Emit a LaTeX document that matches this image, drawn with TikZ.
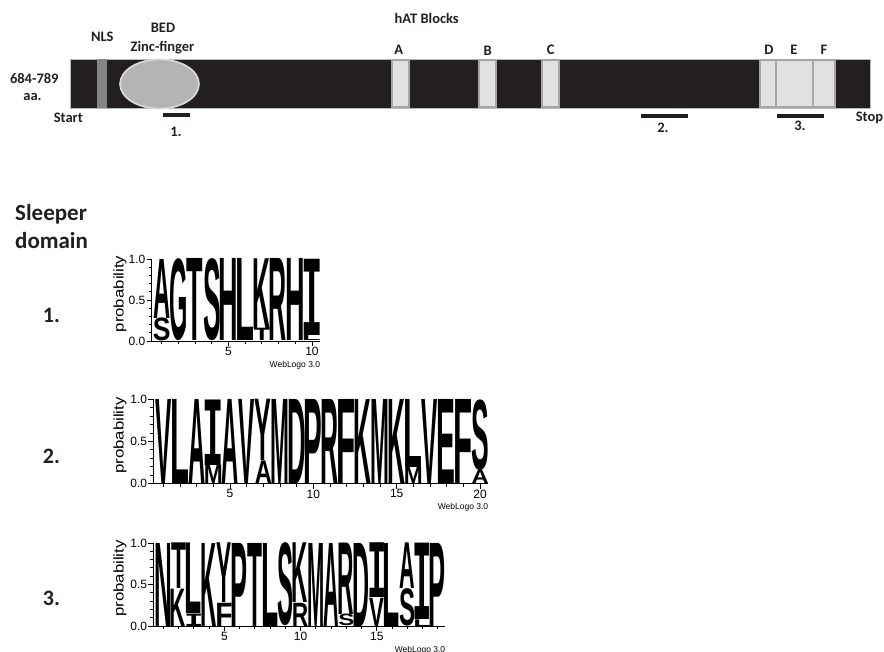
\documentclass[tikz,border=0pt]{standalone}
\usepackage{fontspec}
\usepackage{graphicx}
\setmainfont{Carlito}
\newfontfamily\lsans{Liberation Sans}
\newfontfamily\lmono{Liberation Mono}
\definecolor{ink}{HTML}{231F20}
\definecolor{nlsgray}{HTML}{858585}
\definecolor{bedfill}{HTML}{B4B4B4}
\definecolor{bededge}{HTML}{DCDCDC}
\definecolor{hatfill}{HTML}{E1E1E1}
\definecolor{hatedge}{HTML}{A6A6A6}
% one logo letter, its side bearings trimmed so that the ink fills the box
\newcommand\logoglyph[1]{\begingroup\if I#1\lmono\else\lsans\fi\bfseries
  \setbox0=\hbox{#1}%
  \dimen2=\XeTeXglyphbounds1 \XeTeXcharglyph`#1\relax
  \dimen4=\XeTeXglyphbounds3 \XeTeXcharglyph`#1\relax
  \hbox{\kern-\dimen2\box0\kern-\dimen4}\endgroup}
\tikzset{
  lbl/.style={font=\fontsize{14.5}{17}\selectfont\bfseries, text=ink, inner sep=0, anchor=base},
  bigl/.style={font=\fontsize{23}{26}\selectfont\bfseries, text=ink, inner sep=0, anchor=base west},
  numl/.style={font=\fontsize{22}{26}\selectfont\bfseries, text=ink, inner sep=0, anchor=base},
  glyph/.style={inner sep=0, outer sep=0, anchor=south west},
  axisline/.style={line width=0.9pt, black},
  ticklbl/.style={font=\lsans\fontsize{12}{12}\selectfont, inner sep=0},
  ylbl/.style={font=\lsans\fontsize{14}{14}\selectfont, inner sep=0, rotate=90},
  wlbl/.style={font=\lsans\fontsize{8.5}{9}\selectfont, inner sep=0, anchor=east},
  hatblock/.style={fill=hatfill, draw=hatedge, line width=2pt},
  underbar/.style={line width=4pt, ink},
}
% letters of a sequence logo
\newcommand\logoletters[6]{% #1 prefix, #2 col1 left, #3 width, #4 y0, #5 H, #6 list
  \foreach \lT/\lB/\lF [count=\k] in {#6} {
    \pgfmathsetmacro\xl{#2+(\k-1)*#3+0.4}
    \pgfmathsetmacro\gw{#3-0.8}
    \pgfmathsetmacro\hbot{\lF*#5}
    \pgfmathsetmacro\htop{(1-\lF)*#5}
    \pgfmathsetmacro\ytop{#4-\hbot}
    \node[glyph] (#1t\k) at (\xl,\ytop) {\resizebox*{\gw pt}{\htop pt}{\expandafter\logoglyph\expandafter{\lT}}};
    \ifdim \lF pt>0pt
      \node[glyph] (#1b\k) at (\xl,#4) {\resizebox*{\gw pt}{\hbot pt}{\expandafter\logoglyph\expandafter{\lB}}};
    \fi
  }
}
% axes of a sequence logo
\newcommand\logoaxes[7]{% #1 prefix, #2 axis x, #3 col1 left, #4 width, #5 y0, #6 H, #7 ncol
  \pgfmathsetmacro\xend{#3+#7*#4}
  \draw[axisline] (#2,#5-#6) -- (#2,#5) -- (\xend,#5);
  \foreach \v in {0,...,10}{
    \pgfmathsetmacro\yy{#5-\v*#6/10}
    \pgfmathsetmacro\tl{(mod(\v,5)==0) ? 5 : 3}
    \draw[axisline] (#2,\yy) -- ++(-\tl,0);
  }
  \foreach \c in {1,...,#7}{
    \pgfmathsetmacro\xx{#3+(\c-0.5)*#4}
    \pgfmathsetmacro\tl{(mod(\c,5)==0) ? 5 : 3}
    \draw[axisline] (\xx,#5) -- ++(0,\tl);
  }
  \foreach \c in {5,10,...,#7}{
    \pgfmathsetmacro\xx{#3+(\c-0.5)*#4}
    \node[ticklbl, anchor=north] (#1n\c) at (\xx,#5+6) {\c};
  }
  \node[ticklbl, anchor=east] (#1y0) at (#2-6,#5) {0.0};
  \node[ticklbl, anchor=east] (#1y5) at (#2-6,#5-#6/2) {0.5};
  \node[ticklbl, anchor=east] (#1y10) at (#2-6,#5-#6) {1.0};
  \node[ylbl] (#1prob) at (120,#5-#6/2-6) {\scalebox{1.2}[1]{probability}};
  \node[wlbl] (#1wl) at (\xend,#5+24) {WebLogo 3.0};
}
\begin{document}
\begin{tikzpicture}[x=1pt,y=-1pt]
\useasboundingbox (0,0) rectangle (884,652);
\fill[white] (0,0) rectangle (884,652);

% ---- protein bar ----
\draw[fill=ink, draw=gray!55, line width=0.7pt] (70,59) rectangle (870.5,108);
\fill[nlsgray] (97,59.4) rectangle (107,107.6);
\draw[fill=bedfill, draw=bededge, line width=1.6pt] (159.5,84) ellipse [x radius=39.5, y radius=24.6];
\draw[hatblock] (391.5,60) rectangle (408.5,107);
\draw[hatblock] (479,60) rectangle (496,107);
\draw[hatblock] (542,60) rectangle (559,107);
\draw[hatblock] (760,60) rectangle (775.7,107);
\draw[hatblock] (775.7,60) rectangle (813.3,107);
\draw[hatblock] (813.3,60) rectangle (835,107);

% labels of the bar
\node[lbl] (nls) at (102.3,41.7) {NLS};
\node[lbl] (bed) at (163,32.7) {BED};
\node[lbl] (zf) at (162.5,51.2) {Zinc-finger};
\node[lbl] (hat) at (426.7,23.3) {hAT Blocks};
\node[lbl] (la) at (398.7,54.8) {A};
\node[lbl] (lb) at (487.7,55.8) {B};
\node[lbl] (lc) at (550.7,54.3) {C};
\node[lbl] (ld) at (769,55) {D};
\node[lbl] (le) at (794,55) {E};
\node[lbl] (lf) at (824,55) {F};
\node[lbl] (len1) at (34.3,83.3) {684-789};
\node[lbl] (len2) at (32.5,100.3) {aa.};
\node[lbl] (start) at (68.3,123) {Start};
\node[lbl] (stop) at (869.5,122) {Stop};

% sleeper domain regions
\draw[underbar] (163,115.5) -- (190,115.5);
\draw[underbar] (640.7,116) -- (688.3,116);
\draw[underbar] (777,116) -- (824,116);
\node[lbl] (r1) at (176,136.7) {1.};
\node[lbl] (r2) at (663,132.7) {2.};
\node[lbl] (r3) at (800,130.7) {3.};

% ---- sleeper domain logos ----
\node[bigl] (sl1) at (15,220.7) {Sleeper};
\node[bigl] (sl2) at (15,248.3) {domain};
\node[numl] (n1) at (51.5,323) {1.};
\node[numl] (n2) at (51.5,463) {2.};
\node[numl] (n3) at (51.5,605) {3.};

\logoaxes{a}{151.5}{153.3}{16.7}{341}{82}{10}
\logoletters{a}{153.3}{16.7}{341}{82}{A/S/0.28, G/x/0, T/x/0, S/x/0, H/x/0, L/x/0, K/T/0.15, R/x/0, H/x/0, I/L/0.07}

\logoaxes{b}{153.3}{155}{16.67}{483.5}{84}{20}
\logoletters{b}{155}{16.67}{483.5}{84}{V/x/0, L/x/0, A/x/0, I/M/0.22, A/x/0, V/x/0, Y/A/0.27, M/x/0, D/x/0, P/x/0, R/x/0, F/x/0, K/x/0, M/x/0, K/x/0, L/M/0.19, V/x/0, E/x/0, F/x/0, S/A/0.16}

\logoaxes{c}{153.3}{155.8}{15.24}{626}{83}{19}
\logoletters{c}{155.8}{15.24}{626}{83}{N/x/0, T/K/0.45, L/I/0.15, K/x/0, Y/F/0.28, P/x/0, T/x/0, L/x/0, S/x/0, K/R/0.28, M/x/0, A/x/0, R/S/0.14, D/x/0, I/V/0.34, L/x/0, A/S/0.45, I/L/0.08, P/x/0}
\end{tikzpicture}
\end{document}
